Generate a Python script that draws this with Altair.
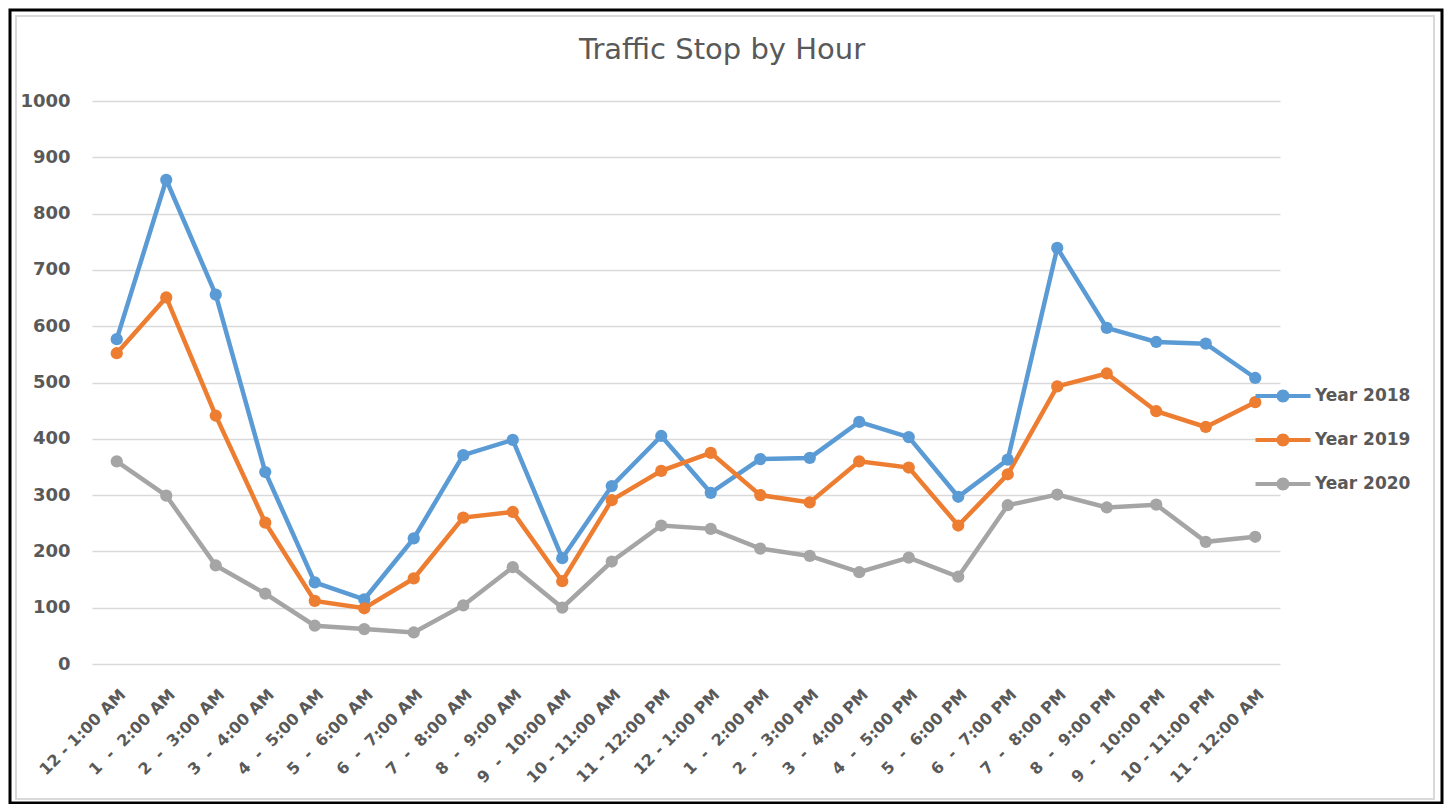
import altair as alt
import pandas as pd

hours = [
    "12 - 1:00 AM", "1 - 2:00 AM", "2 - 3:00 AM", "3 - 4:00 AM", "4 - 5:00 AM",
    "5 - 6:00 AM", "6 - 7:00 AM", "7 - 8:00 AM", "8 - 9:00 AM", "9 - 10:00 AM",
    "10 - 11:00 AM", "11 - 12:00 PM", "12 - 1:00 PM", "1 - 2:00 PM", "2 - 3:00 PM",
    "3 - 4:00 PM", "4 - 5:00 PM", "5 - 6:00 PM", "6 - 7:00 PM", "7 - 8:00 PM",
    "8 - 9:00 PM", "9 - 10:00 PM", "10 - 11:00 PM", "11 - 12:00 AM",
]
year2018 = [577, 860, 656, 341, 145, 115, 223, 371, 398, 188, 316, 405,
            304, 364, 366, 430, 403, 297, 363, 739, 597, 572, 569, 508]
year2019 = [552, 651, 441, 251, 112, 99, 152, 260, 270, 147, 291, 343,
            375, 300, 287, 360, 349, 246, 337, 493, 516, 449, 421, 465]
year2020 = [360, 299, 175, 125, 68, 62, 56, 104, 172, 100, 182, 246,
            240, 205, 192, 163, 189, 155, 282, 301, 278, 283, 217, 226]
series = ["Year 2018", "Year 2019", "Year 2020"]
colors = ["#5B9BD5", "#ED7D31", "#A5A5A5"]
y_ticks = [0, 100, 200, 300, 400, 500, 600, 700, 800, 900, 1000]

rows = []
for name, vals in zip(series, [year2018, year2019, year2020]):
    for h, v in zip(hours, vals):
        rows.append({"hour": h, "series": name, "stops": v})
df = pd.DataFrame(rows)

FONT = "DejaVu Sans"
TXT = "#595959"

legend_path = ("M-2.75,-0.2 L2.75,-0.2 L2.75,0.2 L-2.75,0.2 Z "
               "M0.65,0 A0.65,0.65 0 1,1 -0.65,0 A0.65,0.65 0 1,1 0.65,0 Z")

# single-digit hours are shown with wider spacing, as in the original chart
label_expr = ("length(split(datum.label, ' - ')[0]) == 1 ? "
              "split(datum.label, ' - ')[0] + '\u00a0 - \u00a0' + split(datum.label, ' - ')[1]"
              " : datum.label")

x = alt.X("hour:N", sort=hours,
          scale=alt.Scale(type="point", padding=0.5),
          axis=alt.Axis(title=None, labelAngle=-45, labelFontSize=16, labelColor=TXT,
                        labelFont=FONT, labelFontWeight=600, ticks=False, domain=False,
                        labelPadding=22, grid=False, labelExpr=label_expr))
y = alt.Y("stops:Q", scale=alt.Scale(domain=[0, 1000], nice=False),
          axis=alt.Axis(title=None, values=y_ticks, format="d", labelFontSize=18,
                        labelColor=TXT, labelFont=FONT, labelFontWeight="bold",
                        ticks=False, domain=False, labelPadding=22,
                        grid=True, gridColor="#d9d9d9", gridWidth=1.5))
color = alt.Color("series:N", sort=series,
                  scale=alt.Scale(domain=series, range=colors),
                  legend=alt.Legend(title=None, orient="none", legendX=1181, legendY=285,
                                    symbolType=legend_path, symbolSize=400,
                                    symbolStrokeWidth=0, labelFontSize=17, labelColor=TXT,
                                    labelFont=FONT, labelFontWeight="bold", labelOffset=22,
                                    rowPadding=26, padding=0))

base = alt.Chart(df)
lines = base.mark_line(strokeWidth=4.5).encode(x=x, y=y, color=color)
points = base.mark_point(filled=True, size=150, opacity=1).encode(x=x, y=y, color=color)

frame_df = pd.DataFrame({"k": [0]})
outer = alt.Chart(frame_df).mark_rect(fillOpacity=0, stroke="black", strokeWidth=3).encode(
    x=alt.value(-82), x2=alt.value(1350), y=alt.value(-91), y2=alt.value(702))
inner = alt.Chart(frame_df).mark_rect(fillOpacity=0, stroke="#d9d9d9", strokeWidth=2).encode(
    x=alt.value(-76), x2=alt.value(1342), y=alt.value(-85), y2=alt.value(698))

chart = alt.layer(outer, inner, lines, points).properties(
    width=1188, height=563,
    title=alt.Title("Traffic Stop by Hour", fontSize=29, font=FONT, color=TXT,
                    fontWeight="normal", anchor="middle", dx=36, offset=-56),
    autosize=alt.AutoSizeParams(type="none"),
    padding={"left": 84, "top": 93, "right": 164, "bottom": 140},
).configure_view(stroke=None)

chart.save("out.html", embed_options={"renderer": "svg", "actions": False})
